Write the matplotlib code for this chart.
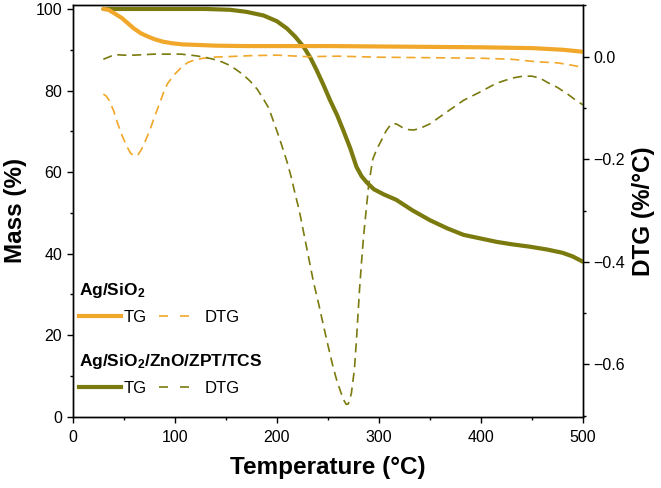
import matplotlib
matplotlib.use("Agg")
import matplotlib.pyplot as plt
from matplotlib.lines import Line2D
from matplotlib.ticker import MultipleLocator

plt.rcParams['font.family'] = ['Liberation Sans', 'DejaVu Sans']
plt.rcParams['mathtext.fontset'] = 'custom'
plt.rcParams['mathtext.rm'] = 'Liberation Sans'
plt.rcParams['mathtext.bf'] = 'Liberation Sans:bold'

# ---- data ----
T_ag_tg = [30, 35, 41, 48, 54, 60, 67, 74, 80, 88, 97, 108, 120, 140, 170, 200, 250, 300, 350, 400, 450, 480, 500]
m_ag_tg = [100.0, 99.8, 98.9, 97.8, 96.5, 95.2, 94.0, 93.2, 92.6, 92.0, 91.6, 91.3, 91.2, 91.0, 90.9, 90.9,
           90.9, 90.8, 90.7, 90.6, 90.4, 90.0, 89.5]

T_ag_dtg = [30, 33, 36, 40, 44, 48, 53, 57, 61, 64, 67, 71, 76, 80, 84, 89, 93, 100, 107, 113, 120, 128, 136,
            150, 175, 200, 230, 260, 300, 350, 400, 430, 455, 475, 490, 500]
v_ag_dtg = [-0.073, -0.077, -0.086, -0.105, -0.130, -0.152, -0.175, -0.189, -0.194, -0.191, -0.182, -0.165,
            -0.141, -0.118, -0.097, -0.070, -0.052, -0.034, -0.020, -0.011, -0.006, -0.003, -0.001, 0.000,
            0.002, 0.003, 0.000, 0.001, -0.001, -0.002, -0.003, -0.005, -0.010, -0.012, -0.017, -0.021]

T_zn_tg = [30, 60, 100, 130, 154, 170, 187, 200, 210, 218, 226, 233, 239, 246, 252, 259, 265, 272, 278, 283,
           288, 295, 305, 317, 333, 350, 367, 383, 400, 415, 430, 448, 465, 480, 490, 500]
m_zn_tg = [100.0, 100.0, 100.0, 100.0, 99.8, 99.3, 98.4, 97.0, 95.2, 93.2, 90.8, 88.0, 85.0, 81.2, 77.7,
           74.0, 70.3, 65.8, 61.3, 59.0, 57.5, 55.8, 54.5, 53.2, 50.6, 48.2, 46.2, 44.6, 43.7, 42.9, 42.3,
           41.7, 41.0, 40.2, 39.3, 38.0]

T_zn_dtg = [30, 35, 41, 50, 60, 80, 106, 120, 129, 138, 146, 154, 160, 167, 174, 181, 187, 192, 196, 201,
            206, 210, 214, 218, 222, 226, 231, 236, 241, 245, 250, 255, 259, 263, 266, 268, 270, 273, 276,
            278, 281, 283, 285, 287, 290, 294, 298, 302, 307, 312, 317, 323, 328, 334, 340, 350, 365, 383,
            400, 415, 430, 441, 450, 458, 465, 475, 485, 493, 500]
v_zn_dtg = [-0.005, -0.001, 0.004, 0.003, 0.003, 0.005, 0.005, 0.002, -0.001, -0.005, -0.010, -0.017,
            -0.025, -0.035, -0.048, -0.064, -0.083, -0.100, -0.122, -0.150, -0.180, -0.205, -0.234, -0.268,
            -0.300, -0.340, -0.390, -0.440, -0.482, -0.518, -0.562, -0.604, -0.633, -0.656, -0.671, -0.678,
            -0.677, -0.657, -0.610, -0.553, -0.455, -0.400, -0.350, -0.310, -0.250, -0.200, -0.180, -0.165,
            -0.145, -0.131, -0.131, -0.138, -0.142, -0.143, -0.140, -0.131, -0.110, -0.085, -0.068, -0.052,
            -0.042, -0.038, -0.038, -0.042, -0.050, -0.060, -0.073, -0.085, -0.094]

series_names = [r'Ag/SiO$\mathbf{_2}$', r'Ag/SiO$\mathbf{_2}$/ZnO/ZPT/TCS']
orange = '#F1A72A'
olive = '#7A7A0E'

fig = plt.figure(figsize=(6.61, 4.88), dpi=100)
ax = fig.add_axes([0.110, 0.146, 0.772, 0.844])
ax2 = ax.twinx()

tg_lw = 3.0
dtg_lw = 1.2
dash_plot = (0, (5.5, 3.4))

ax.plot(T_zn_tg, m_zn_tg, color=olive, lw=tg_lw, solid_capstyle='round', zorder=3)
ax.plot(T_ag_tg, m_ag_tg, color=orange, lw=tg_lw, solid_capstyle='round', zorder=4)
ax2.plot(T_ag_dtg, v_ag_dtg, color=orange, lw=dtg_lw, ls=dash_plot)
ax2.plot(T_zn_dtg, v_zn_dtg, color=olive, lw=dtg_lw, ls=dash_plot)

ax.set_xlim(0, 500)
ax.set_ylim(0, 101)
ax2.set_ylim(-0.702, 0.101)

ax.xaxis.set_major_locator(MultipleLocator(100))
ax.xaxis.set_minor_locator(MultipleLocator(50))
ax.yaxis.set_major_locator(MultipleLocator(20))
ax.yaxis.set_minor_locator(MultipleLocator(10))
ax2.yaxis.set_major_locator(MultipleLocator(0.2))
ax2.yaxis.set_minor_locator(MultipleLocator(0.1))

for a in (ax, ax2):
    for s in a.spines.values():
        s.set_linewidth(1.0)
    a.tick_params(which='major', direction='out', length=4.5, width=1.0, labelsize=11.5, pad=3)
    a.tick_params(which='minor', direction='out', length=2.5, width=1.0)
ax.tick_params(axis='x', pad=5)
ax.tick_params(top=False, which='both')

ax.set_xlabel('Temperature (°C)', fontsize=17.5, fontweight='bold', labelpad=8)
ax.set_ylabel('Mass (%)', fontsize=17.5, fontweight='bold', labelpad=6)
ax2.set_ylabel('DTG (%/°C)', fontsize=17.5, fontweight='bold', labelpad=5)

dash_leg = (0, (5.4, 7.2))
def make_legend(color, title, y):
    h = [Line2D([], [], color=color, lw=tg_lw), Line2D([], [], color=color, lw=dtg_lw, ls=dash_leg)]
    leg = ax.legend(h, ['TG', 'DTG'], ncol=2, loc='upper left', bbox_to_anchor=(0.012, y),
                    frameon=False, fontsize=12, handlelength=2.5, handletextpad=0.2,
                    columnspacing=0.75, borderpad=0, borderaxespad=0, labelspacing=0.6,
                    title=title, title_fontproperties={'weight': 'bold', 'size': 12.5},
                    alignment='left')
    return leg

leg1 = make_legend(orange, series_names[0], 0.330)
ax.add_artist(leg1)
leg2 = make_legend(olive, series_names[1], 0.158)

fig.savefig('out.png', dpi=100)
